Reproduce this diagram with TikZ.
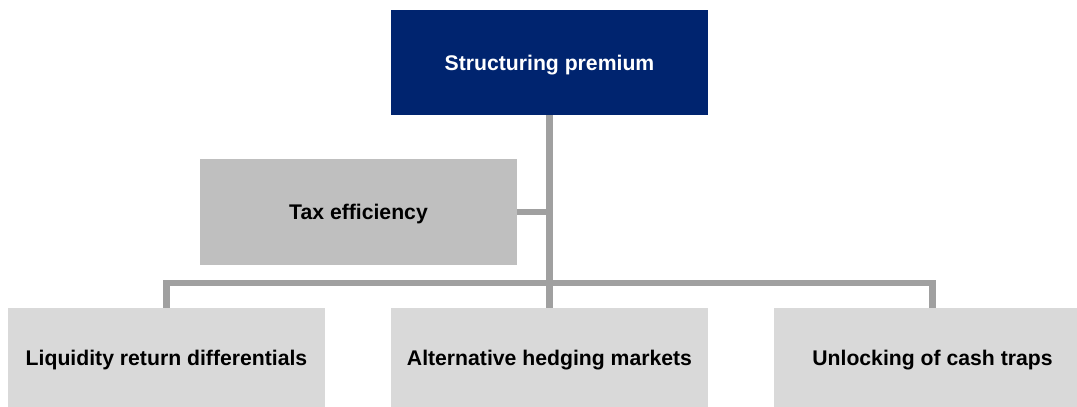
\documentclass[tikz,border=0pt]{standalone}
\usepackage{fontspec}
\setmainfont{Liberation Sans}
\usepackage{xcolor}
\definecolor{navy}{HTML}{00246F}
\definecolor{midgray}{HTML}{BFBFBF}
\definecolor{lightgray}{HTML}{D9D9D9}
\definecolor{linegray}{HTML}{A0A0A0}
\usetikzlibrary{calc}

\begin{document}
\begin{tikzpicture}[
    x=0.5pt, y=-0.5pt,
    box/.style={rectangle, inner sep=0pt, minimum width=158.5pt, text depth=0pt, font=\fontsize{10.6}{12}\selectfont\bfseries},
    top/.style={box, fill=navy, text=white, minimum height=52.5pt},
    side/.style={box, fill=midgray, minimum height=53pt},
    leaf/.style={box, fill=lightgray, minimum height=49.5pt},
    link/.style={draw=linegray, line width=3.25pt}
  ]
    \useasboundingbox (0,0) rectangle (1077,407);
    \clip (0,0) rectangle (1077,407);

    \node[top] (prem) at (549.5,62.5) {Structuring premium};
    \node[side] (tax) at (358.5,212) {Tax efficiency};
    \node[leaf] (liq) at (166.5,357.5) {Liquidity return differentials};
    \node[leaf] (hedge) at (549.5,357.5) {Alternative hedging markets};
    \node[leaf] (cash) at (932.5,357.5) {Unlocking of cash traps};
    \coordinate (bus) at (549.5,283);

    \draw[link] (prem.south) -- (hedge.north);
    \draw[link] (tax.east) -- (tax.east -| prem.south);
    \draw[link] (liq.north) -- (liq.north |- bus) -| (cash.north);
  \end{tikzpicture}
\end{document}
